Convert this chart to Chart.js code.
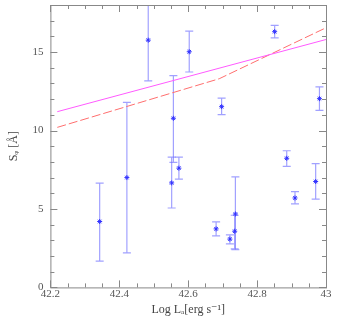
<!DOCTYPE html>
<html>
<head>
<meta charset="utf-8">
<script src="https://cdn.jsdelivr.net/npm/chart.js@4"></script>
<style>
  html, body { margin: 0; padding: 0; background: #fff; }
  #wrap { width: 339px; height: 322px; }
</style>
</head>
<body>
<div id="wrap"><canvas id="myChart" width="339" height="322"></canvas></div>
<script>
// measured points
const logL = [42.343, 42.422, 42.484, 42.557, 42.552, 42.573, 42.603, 42.697, 42.851, 42.981, 42.681, 42.721, 42.737, 42.735, 42.886, 42.910, 42.970];
const sW = [4.2, 7.0, 15.76, 10.78, 6.66, 7.6, 15.02, 11.52, 16.3, 12.03, 3.73, 3.08, 4.68, 3.58, 8.23, 5.7, 6.75];
const sHigh = [6.65, 11.79, 18.5, 13.5, 8.31, 8.31, 16.33, 12.06, 16.7, 12.78, 4.18, 3.35, 7.04, 4.6, 8.71, 6.11, 7.89];
const sLow = [1.68, 2.2, 13.16, 7.97, 5.06, 6.9, 13.73, 11.01, 15.9, 11.28, 3.29, 2.78, 2.4, 2.45, 7.72, 5.32, 5.63];

// model curves
const solidX = [42.22, 43.0];
const solidY = [11.2, 15.8];
const dashX = [42.22, 42.69, 43.0];
const dashY = [10.2, 13.3, 16.55];

const xTicks = [42.2, 42.4, 42.6, 42.8, 43];
const yTicks = [0, 5, 10, 15];

const serif = "'Liberation Serif', 'DejaVu Serif', serif";

const errorBars = {
  id: "errorBars",
  beforeDatasetsDraw(chart) {
    const { ctx, chartArea: a, scales: { x, y } } = chart;
    ctx.save();
    ctx.beginPath();
    ctx.rect(a.left, a.top, a.right - a.left, a.bottom - a.top);
    ctx.clip();
    ctx.strokeStyle = "rgba(110, 110, 255, 0.65)";
    ctx.lineWidth = 1.2;
    logL.forEach((v, i) => {
      const px = x.getPixelForValue(v);
      const hi = y.getPixelForValue(sHigh[i]);
      const lo = y.getPixelForValue(sLow[i]);
      ctx.beginPath();
      ctx.moveTo(px, hi); ctx.lineTo(px, lo);
      ctx.moveTo(px - 4, hi); ctx.lineTo(px + 4, hi);
      ctx.moveTo(px - 4, lo); ctx.lineTo(px + 4, lo);
      ctx.stroke();
    });
    ctx.restore();
  }
};

// inward ticks on all four sides + frame
const frame = {
  id: "frame",
  afterDraw(chart) {
    const { ctx, chartArea: a, scales: { x, y } } = chart;
    ctx.save();
    ctx.strokeStyle = "#888";
    ctx.lineWidth = 1;
    ctx.strokeRect(a.left + 0.5, a.top + 0.5, a.right - a.left, a.bottom - a.top);
    ctx.beginPath();
    for (let k = 0; k <= 16; k++) {
      const v = 42.2 + k * 0.05;
      const px = Math.round(x.getPixelForValue(v)) + 0.5;
      const len = k % 4 === 0 ? 7 : 4;
      ctx.moveTo(px, a.bottom); ctx.lineTo(px, a.bottom - len);
      ctx.moveTo(px, a.top); ctx.lineTo(px, a.top + len);
    }
    for (let v = 0; v <= 18; v++) {
      const py = Math.round(y.getPixelForValue(v)) + 0.5;
      const len = v % 5 === 0 ? 7 : 4;
      ctx.moveTo(a.left, py); ctx.lineTo(a.left + len, py);
      ctx.moveTo(a.right, py); ctx.lineTo(a.right - len, py);
    }
    ctx.stroke();
    ctx.restore();
  }
};

new Chart(document.getElementById("myChart"), {
  type: "scatter",
  data: {
    datasets: [
      {
        data: logL.map((v, i) => ({ x: v, y: sW[i] })),
        pointStyle: "star",
        radius: 2.5,
        borderColor: "rgb(50, 50, 255)",
        backgroundColor: "rgb(50, 50, 255)",
        borderWidth: 1
      },
      {
        data: solidX.map((v, i) => ({ x: v, y: solidY[i] })),
        showLine: true,
        pointRadius: 0,
        borderColor: "rgb(255, 90, 255)",
        borderWidth: 1
      },
      {
        data: dashX.map((v, i) => ({ x: v, y: dashY[i] })),
        showLine: true,
        pointRadius: 0,
        borderColor: "rgb(255, 110, 110)",
        borderWidth: 1,
        borderDash: [9, 3]
      }
    ]
  },
  options: {
    responsive: false,
    animation: false,
    layout: { padding: { top: 3, right: 13, left: 7, bottom: 5 } },
    plugins: { legend: { display: false }, tooltip: { enabled: false } },
    scales: {
      x: {
        type: "linear",
        min: 42.2,
        max: 43,
        afterBuildTicks: s => { s.ticks = xTicks.map(v => ({ value: v })); },
        grid: { display: false, drawTicks: false },
        border: { display: false },
        ticks: {
          color: "#555",
          font: { family: serif, size: 11 },
          padding: 0,
          maxRotation: 0,
          callback: v => String(+v.toFixed(1))
        },
        title: {
          display: true,
          text: "Log L\u2090[erg s\u207B\u00B9]",
          color: "#444",
          font: { family: serif, size: 12 },
          padding: { top: 2, bottom: 0 }
        }
      },
      y: {
        min: 0,
        max: 18,
        afterBuildTicks: s => { s.ticks = yTicks.map(v => ({ value: v })); },
        afterFit: s => { s.paddingTop = 0; s.paddingBottom = 0; },
        grid: { display: false, drawTicks: false },
        border: { display: false },
        ticks: {
          color: "#555",
          font: { family: serif, size: 11 },
          padding: 7
        },
        title: {
          display: true,
          text: "S\u1D69 [\u00C5]",
          color: "#444",
          font: { family: serif, size: 12 },
          padding: { top: 0, bottom: 4 }
        }
      }
    }
  },
  plugins: [errorBars, frame]
});
</script>
</body>
</html>
